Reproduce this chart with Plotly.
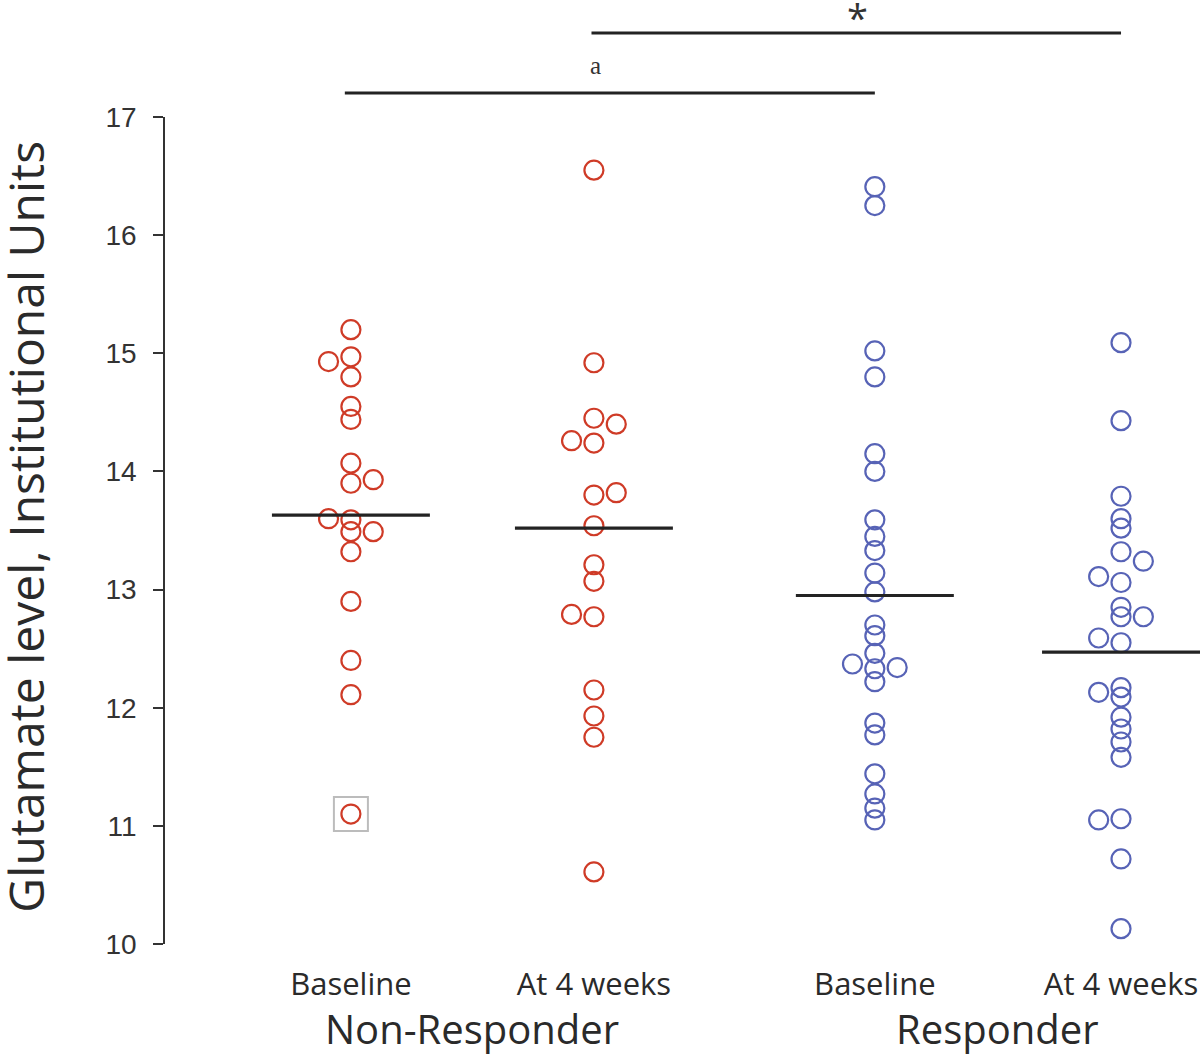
import plotly.graph_objects as go

# values (glutamate level, institutional units)
nr_baseline = [15.20, 14.93, 14.97, 14.80, 14.55, 14.44, 14.07, 13.90, 13.93,
               13.60, 13.59, 13.49, 13.49, 13.32, 12.90, 12.40, 12.11, 11.10]
nr_baseline_side = [0, -1, 0, 0, 0, 0, 0, 0, 1, -1, 0, 0, 1, 0, 0, 0, 0, 0]

nr_week4 = [16.55, 14.92, 14.45, 14.40, 14.26, 14.24, 13.80, 13.82, 13.54,
            13.21, 13.07, 12.79, 12.77, 12.15, 11.93, 11.75, 10.61]
nr_week4_side = [0, 0, 0, 1, -1, 0, 0, 1, 0, 0, 0, -1, 0, 0, 0, 0, 0]

r_baseline = [16.41, 16.25, 15.02, 14.80, 14.15, 14.00, 13.59, 13.45, 13.33,
              13.14, 12.98, 12.70, 12.61, 12.46, 12.37, 12.34, 12.33, 12.22,
              11.87, 11.77, 11.44, 11.27, 11.15, 11.05]
r_baseline_side = [0, 0, 0, 0, 0, 0, 0, 0, 0, 0, 0, 0, 0, 0, -1, 1, 0, 0,
                   0, 0, 0, 0, 0, 0]

r_week4 = [15.09, 14.43, 13.79, 13.60, 13.52, 13.32, 13.24, 13.11, 13.06,
           12.85, 12.77, 12.77, 12.59, 12.55, 12.17, 12.13, 12.09, 11.92,
           11.82, 11.71, 11.58, 11.05, 11.06, 10.72, 10.13]
r_week4_side = [0, 0, 0, 0, 0, 0, 1, -1, 0, 0, 0, 1, -1, 0, 0, -1, 0, 0,
                0, 0, 0, -1, 0, 0, 0]

group_means = [13.63, 13.52, 12.95, 12.47]
outlier = 11.10  # boxed point, non-responder baseline

time_labels = ["Baseline", "At 4 weeks", "Baseline", "At 4 weeks"]
group_labels = ["Non-Responder", "Responder"]
positions = [1, 2, 3.156, 4.169]

RED = "#cf3b27"
BLUE = "#5763b6"
JIT = 0.092
HALF = 0.325

series = [
    (nr_baseline, nr_baseline_side, RED),
    (nr_week4, nr_week4_side, RED),
    (r_baseline, r_baseline_side, BLUE),
    (r_week4, r_week4_side, BLUE),
]

fig = go.Figure()

for i, (vals, side, col) in enumerate(series):
    fig.add_trace(go.Scatter(
        x=[positions[i] + s * JIT for s in side],
        y=vals,
        mode="markers",
        marker=dict(symbol="circle-open", size=19, color=col,
                    line=dict(color=col, width=2.2)),
        showlegend=False,
    ))
    # group mean line
    fig.add_trace(go.Scatter(
        x=[positions[i] - HALF, positions[i] + HALF],
        y=[group_means[i], group_means[i]],
        mode="lines",
        line=dict(color="#232323", width=3.2),
        showlegend=False,
    ))

# grey box around the outlier
fig.add_trace(go.Scatter(
    x=[positions[0]], y=[outlier], mode="markers",
    marker=dict(symbol="square-open", size=34, color="#bcbcbc",
                line=dict(color="#bcbcbc", width=2)),
    showlegend=False,
))

# significance bars
fig.add_shape(type="line", xref="x", yref="paper",
              x0=positions[0] - 0.025, x1=positions[2], y0=1.029, y1=1.029,
              line=dict(color="#232323", width=3.2))
fig.add_shape(type="line", xref="x", yref="paper",
              x0=positions[1] - 0.01, x1=positions[3], y0=1.1016, y1=1.1016,
              line=dict(color="#232323", width=3.2))
fig.add_annotation(x=positions[1] + 0.008, y=1.043, xref="x", yref="paper",
                   text="a", showarrow=False, yanchor="bottom",
                   font=dict(family="Liberation Serif", size=25, color="#333"))
fig.add_annotation(x=(positions[1] + positions[3]) / 2, y=1.155,
                   xref="x", yref="paper", text="*",
                   showarrow=False, yanchor="top",
                   font=dict(family="Open Sans", size=38, color="#333"))

# group labels under the time points
for k, lab in enumerate(group_labels):
    fig.add_annotation(x=(positions[2 * k] + positions[2 * k + 1]) / 2,
                       y=-0.102, xref="x", yref="paper", text=lab,
                       showarrow=False, yanchor="middle",
                       font=dict(family="Open Sans", size=40, color="#2a2a2a"))

fig.add_annotation(x=-0.135, y=0.505, xref="paper", yref="paper",
                   text="Glutamate level, Institutional Units", textangle=-90,
                   showarrow=False, xanchor="center", yanchor="middle",
                   font=dict(family="Open Sans", size=48, color="#2a2a2a"))

fig.update_xaxes(range=[0.235, 4.494], tickvals=positions, ticktext=time_labels,
                 showline=False, showgrid=False, zeroline=False, ticks="",
                 ticklabelstandoff=19,
                 tickfont=dict(family="Open Sans", size=31, color="#2a2a2a"))
fig.update_yaxes(range=[10, 17], tickvals=list(range(10, 18)),
                 showline=True, linecolor="#333", linewidth=1.6,
                 ticks="outside", ticklen=10, tickwidth=1.6, tickcolor="#333",
                 ticklabelstandoff=11, showgrid=False, zeroline=False,
                 tickfont=dict(family="Liberation Sans", size=28, color="#333"))

fig.update_layout(width=1200, height=1054, plot_bgcolor="white",
                  paper_bgcolor="white",
                  margin=dict(l=165, r=0, t=117, b=110))

# drop the page's default body margin so the figure fills the window
fig.write_html("out.html", config={"displayModeBar": False},
               post_script="document.body.style.margin='0';")
